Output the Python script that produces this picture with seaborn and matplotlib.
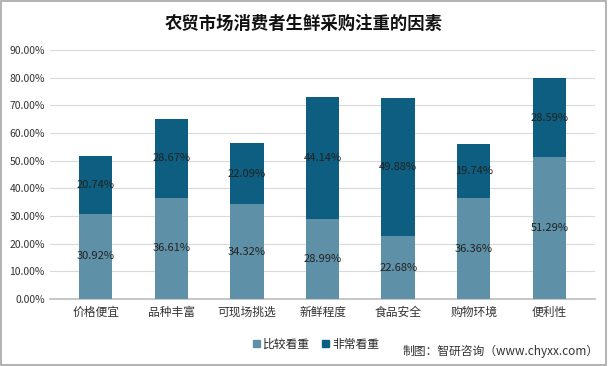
import matplotlib
matplotlib.use("Agg")
import matplotlib.pyplot as plt
import seaborn as sns
import pandas as pd
from matplotlib.patches import Patch, Rectangle
from matplotlib.ticker import PercentFormatter

categories = ["价格便宜", "品种丰富", "可现场挑选", "新鲜程度", "食品安全", "购物环境", "便利性"]
somewhat = [30.92, 36.61, 34.32, 28.99, 22.68, 36.36, 51.29]
very = [20.74, 28.67, 22.09, 44.14, 49.88, 19.74, 28.59]
series_names = ["比较看重", "非常看重"]
title = "农贸市场消费者生鲜采购注重的因素"
source = "制图：智研咨询（www.chyxx.com）"

sns.set_theme(style="white")
plt.rcParams['font.family'] = ['Noto Sans CJK SC', 'DejaVu Sans']

light = "#5E90A8"
dark = "#0D5E80"

df = pd.DataFrame({"cat": categories, "a": somewhat, "b": very})
df["total"] = df["a"] + df["b"]

fig = plt.figure(figsize=(6.08, 3.66), dpi=100)
ax = fig.add_axes([0.083, 0.183, 0.895, 0.680])

sns.barplot(data=df, x="cat", y="total", color=dark, width=0.44, ax=ax, saturation=1,
            linewidth=0, zorder=3)
sns.barplot(data=df, x="cat", y="a", color=light, width=0.44, ax=ax, saturation=1,
            linewidth=0, zorder=3)

for i, (a, b) in enumerate(zip(somewhat, very)):
    ax.text(i, a / 2, f"{a:.2f}%", ha="center", va="center", fontsize=8, color="#222222", zorder=5)
    ax.text(i, a + b / 2, f"{b:.2f}%", ha="center", va="center", fontsize=8, color="#222222", zorder=5)

ax.set_ylim(0, 90)
ax.set_yticks(range(0, 91, 10))
ax.yaxis.set_major_formatter(PercentFormatter(decimals=2))
ax.set_xlim(-0.6, 6.6)
ax.grid(axis="y", color="#D9D9D9", linewidth=0.8, zorder=0)
ax.set_axisbelow(True)
for s in ["top", "right", "left"]:
    ax.spines[s].set_visible(False)
ax.spines["bottom"].set_color("#BFBFBF")
ax.set_xlabel("")
ax.set_ylabel("")
ax.tick_params(axis="y", labelsize=7.5, colors="#333333", length=0, pad=4)
ax.tick_params(axis="x", labelsize=8.5, colors="#333333", length=0, pad=5)

fig.text(0.5, 0.935, title, ha="center", va="center", fontsize=12.5, fontweight="bold", color="#111111")

handles = [Patch(color=light), Patch(color=dark)]
fig.legend(handles, series_names, loc="center", bbox_to_anchor=(0.52, 0.06), ncol=2,
           frameon=False, fontsize=8.5, handlelength=0.6, handleheight=0.6, handletextpad=0.3,
           columnspacing=1.0)
fig.text(0.985, 0.04, source, ha="right", va="center", fontsize=8.5, color="#333333")

fig.patches.append(Rectangle((0.002, 0.003), 0.995, 0.993, transform=fig.transFigure,
                             fill=False, edgecolor="#A6A6A6", linewidth=1.2))

fig.savefig("out.png", dpi=100)
